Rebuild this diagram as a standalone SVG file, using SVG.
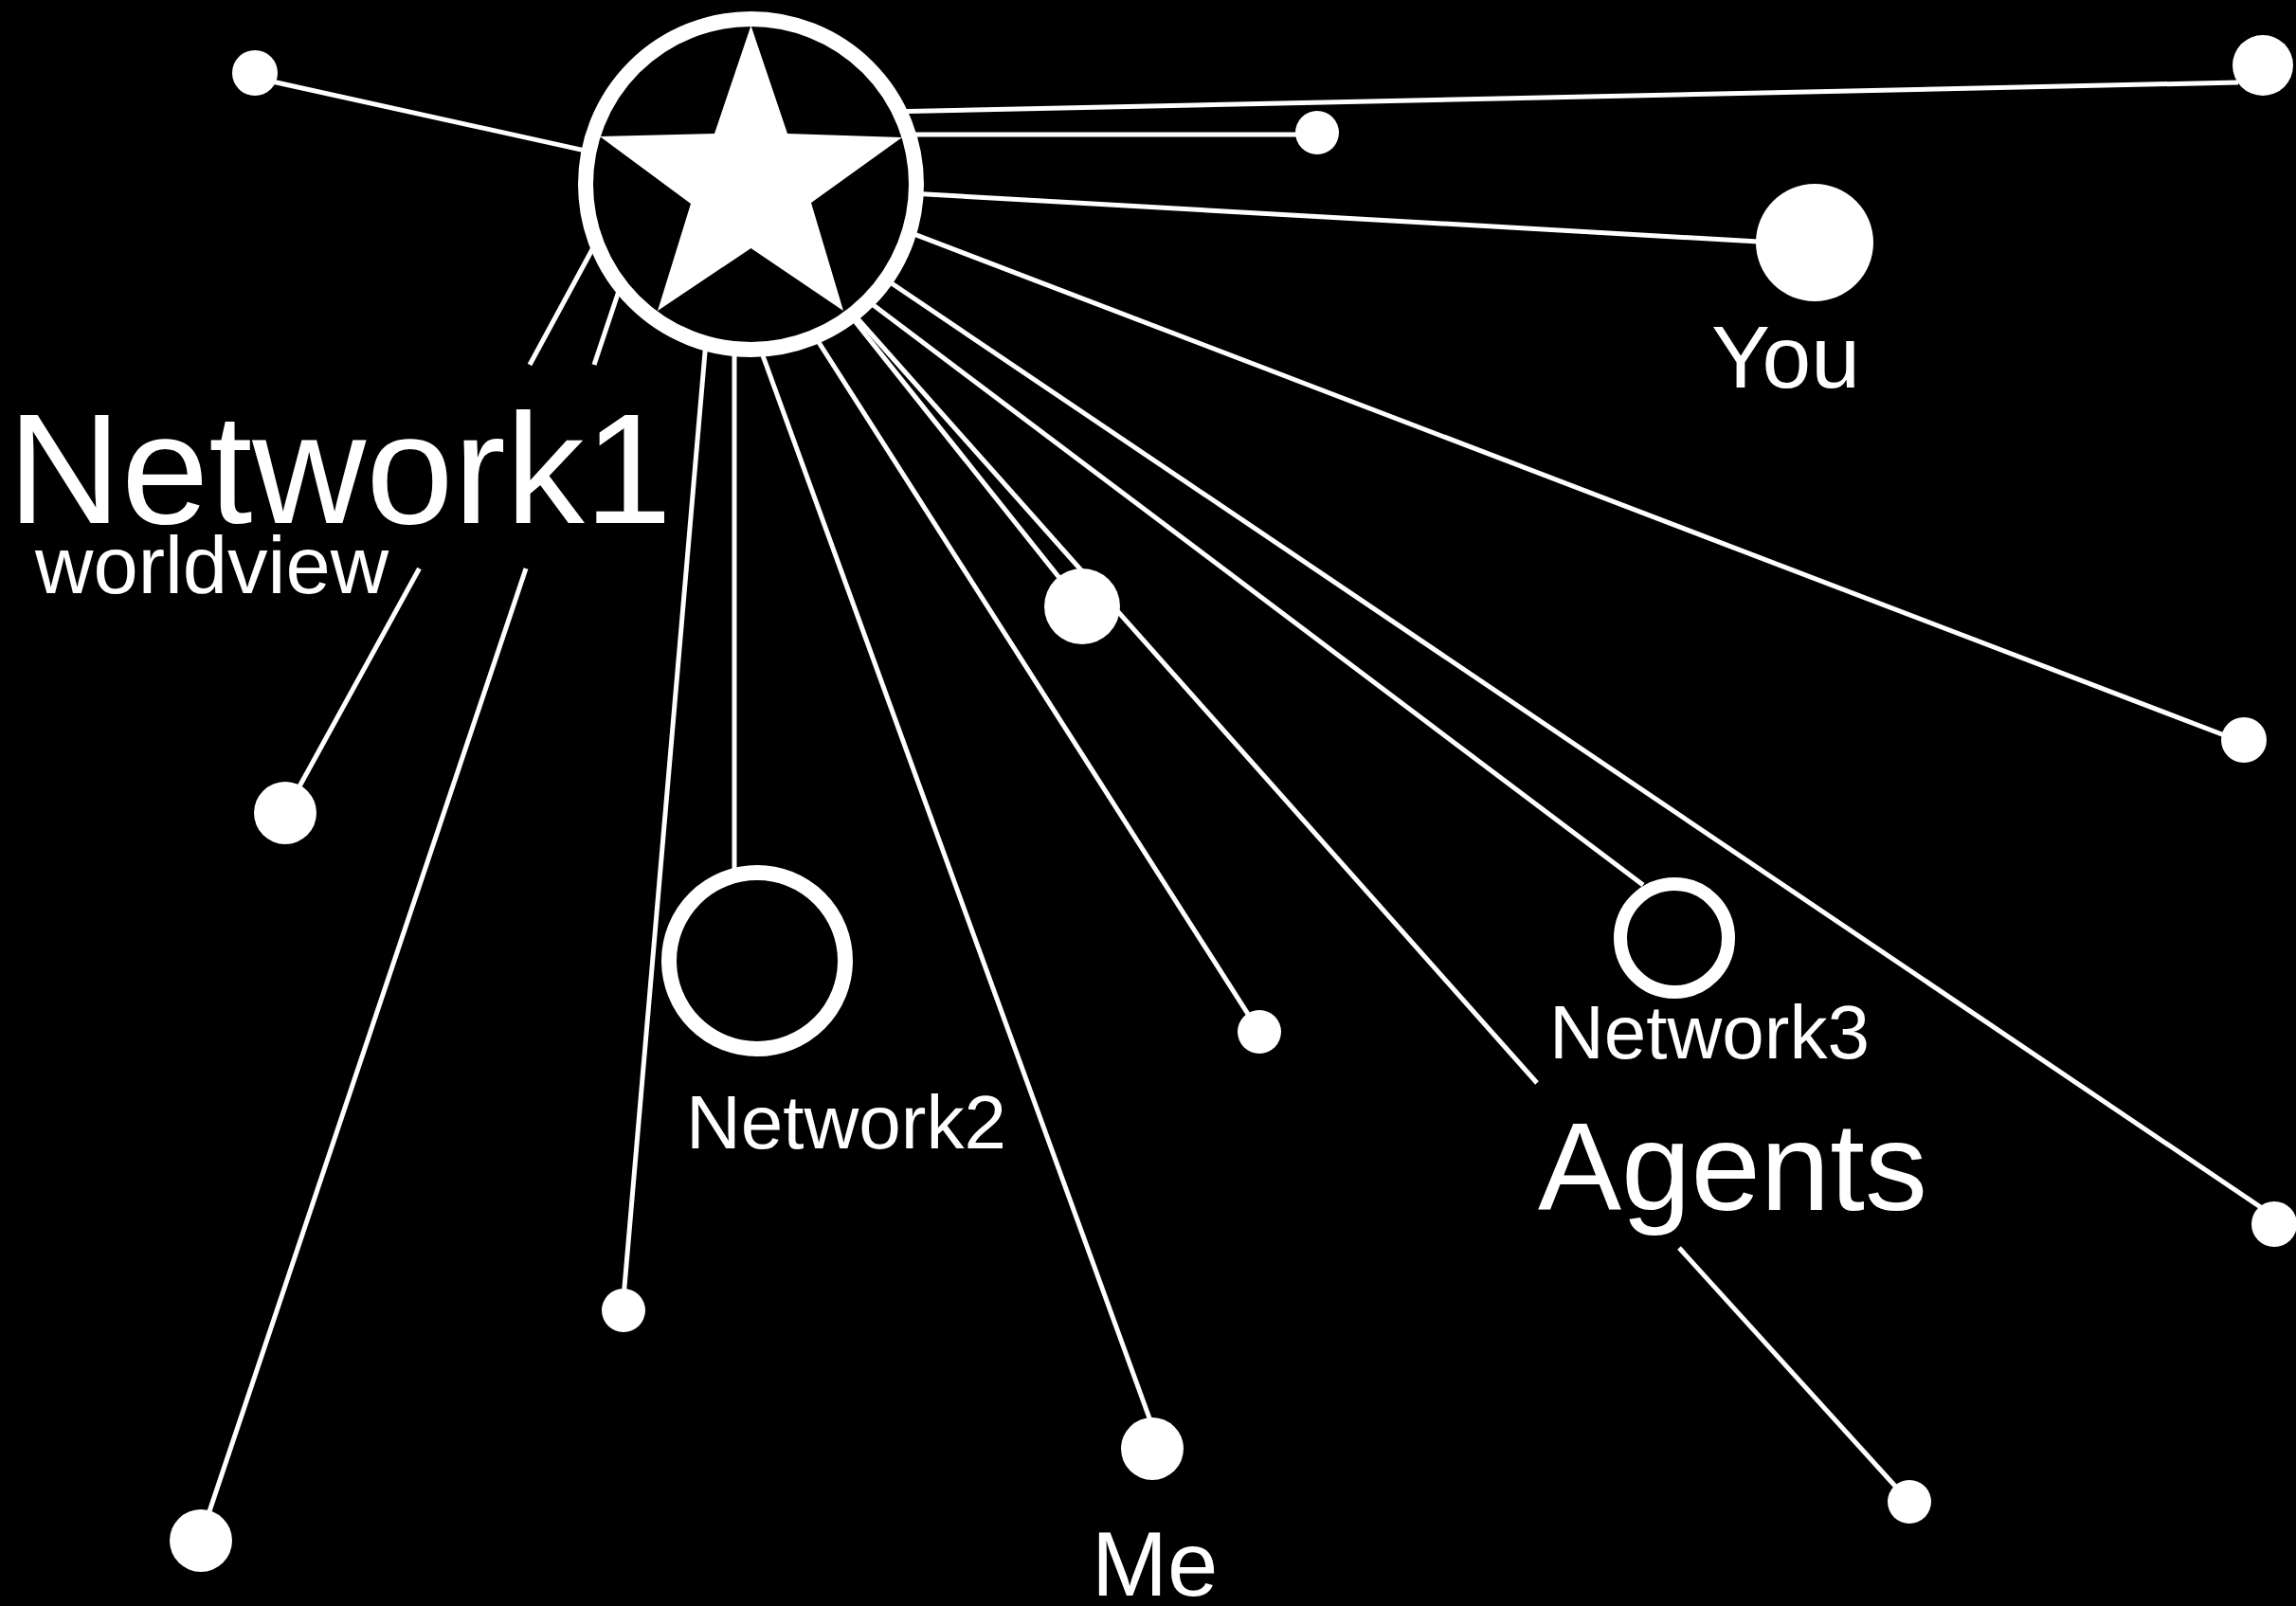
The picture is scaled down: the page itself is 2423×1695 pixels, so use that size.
<svg xmlns="http://www.w3.org/2000/svg" width="2423" height="1695" viewBox="0 0 2423 1695">
<style>
.bg{fill:#000}
.ln{stroke:#fff;stroke-width:5;fill:none;stroke-linecap:butt}
.dot{fill:#fff}
.ring{fill:#000;stroke:#fff}
.t{fill:#fff;font-family:"Liberation Sans",Arial,Helvetica,sans-serif}
</style>
<rect class="bg" x="0" y="0" width="2423" height="1695"/>
<g id="connectors">
<line class="ln" x1="625" y1="160.6" x2="269" y2="82"/>
<line class="ln" x1="945" y1="117.8" x2="2362" y2="87"/>
<line class="ln" x1="955" y1="142" x2="1370" y2="142"/>
<line class="ln" x1="960" y1="204" x2="1856" y2="255"/>
<line class="ln" x1="955" y1="243.4" x2="2350" y2="777"/>
<line class="ln" x1="935" y1="295" x2="2390" y2="1277"/>
<line class="ln" x1="915" y1="317" x2="1734" y2="934"/>
<line class="ln" x1="895" y1="330" x2="1142" y2="640"/>
<line class="ln" x1="895" y1="325" x2="1622" y2="1143"/>
<line class="ln" x1="1772" y1="1317" x2="2015" y2="1585"/>
<line class="ln" x1="860" y1="355" x2="1329" y2="1089"/>
<line class="ln" x1="801.3" y1="365" x2="1216" y2="1505"/>
<line class="ln" x1="775" y1="360" x2="775" y2="918"/>
<line class="ln" x1="745" y1="360" x2="658" y2="1370"/>
<line class="ln" x1="653.7" y1="305" x2="627" y2="385"/>
<line class="ln" x1="555" y1="600" x2="216" y2="1610"/>
<line class="ln" x1="626.8" y1="260" x2="559" y2="385"/>
<line class="ln" x1="442.5" y1="600" x2="305" y2="850"/>
</g>
<g id="network1">
<circle class="ring" cx="792.5" cy="194.5" r="174.5" stroke-width="16"/>
<polygon class="dot" points="792.5,27 831,141 952,145 856,214 890,328 792.5,262 694,328 729,215 633,144 754,141"/>
</g>
<g id="label-network1"><text class="t" x="8" y="552" font-size="166">Network1</text></g>
<g id="label-worldview"><text class="t" x="37" y="626" font-size="85">worldview</text></g>
<g id="node-tl"><circle class="dot" cx="269" cy="77" r="24"/></g>
<g id="node-tr"><circle class="dot" cx="2388" cy="69" r="32"/></g>
<g id="node-s1"><circle class="dot" cx="1390" cy="140" r="23"/></g>
<g id="node-you"><circle class="dot" cx="1915" cy="256" r="62"/><text class="t" x="1806" y="409" font-size="93">You</text></g>
<g id="node-r1"><circle class="dot" cx="2368" cy="781" r="24"/></g>
<g id="node-r2"><circle class="dot" cx="2400" cy="1292" r="24"/></g>
<g id="node-mid"><circle class="dot" cx="1142" cy="640" r="40"/></g>
<g id="node-c"><circle class="dot" cx="1329" cy="1089" r="23"/></g>
<g id="node-me"><circle class="dot" cx="1216" cy="1529" r="33"/><text class="t" x="1152" y="1684" font-size="96">Me</text></g>
<g id="node-b"><circle class="dot" cx="658" cy="1383" r="23"/></g>
<g id="node-bl"><circle class="dot" cx="212" cy="1626" r="33"/></g>
<g id="node-l"><circle class="dot" cx="301" cy="858" r="33"/></g>
<g id="node-br"><circle class="dot" cx="2015" cy="1585" r="23"/></g>
<g id="network2"><circle class="ring" cx="799" cy="1014" r="93" stroke-width="16"/><text class="t" x="724" y="1212" font-size="80">Network2</text></g>
<g id="network3"><circle class="ring" cx="1767" cy="990" r="57" stroke-width="14"/><text class="t" x="1635" y="1117" font-size="80">Network3</text></g>
<g id="label-agents"><text class="t" x="1623" y="1277" font-size="132">Agents</text></g>
</svg>
